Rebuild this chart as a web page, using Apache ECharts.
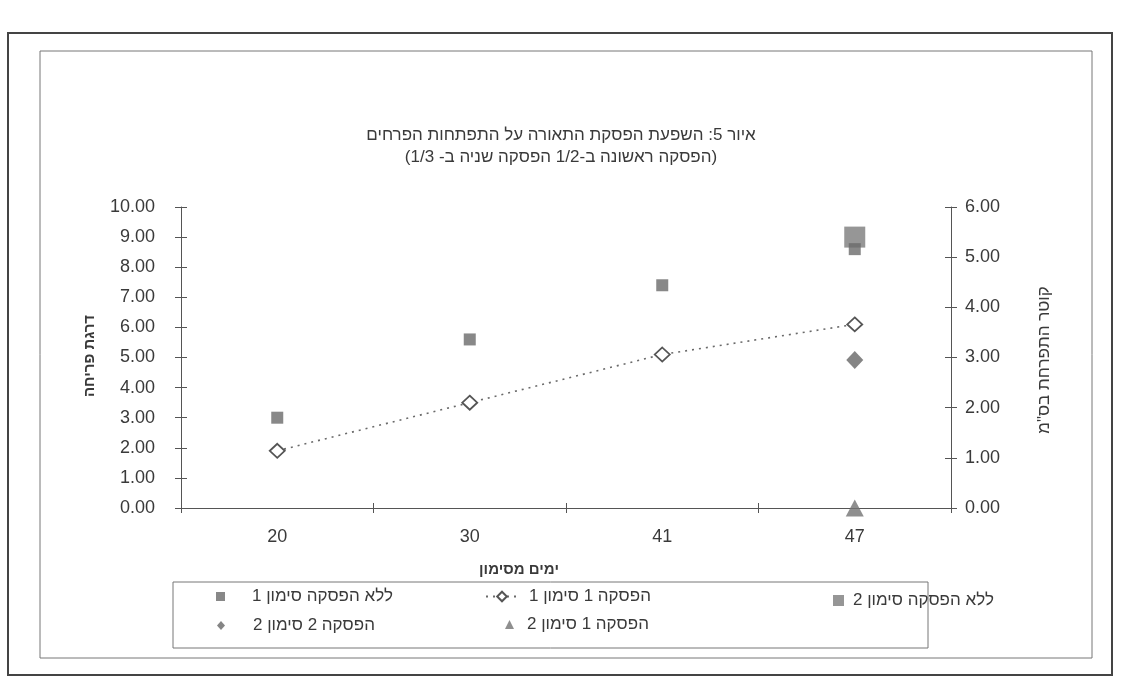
<!DOCTYPE html>
<html>
<head>
<meta charset="utf-8">
<script src="https://cdn.jsdelivr.net/npm/echarts@6/dist/echarts.min.js"></script>
<style>
html,body{margin:0;padding:0;background:#fff;}
#c{width:1122px;height:696px;}
</style>
</head>
<body>
<div id="c" dir="rtl"></div>
<script>
// ---- data ----
const categories = ['20', '30', '41', '47'];
const seriesNames = ['ללא הפסקה סימון 1', 'הפסקה 1 סימון 1', 'ללא הפסקה סימון 2', 'הפסקה 1 סימון 2', 'הפסקה 2 סימון 2'];
const noBreakMark1 = [3.0, 5.6, 7.4, 8.6];        // left axis
const break1Mark1 = [1.9, 3.5, 5.1, 6.1];         // left axis
const noBreakMark2 = [null, null, null, 5.4];     // right axis
const break1Mark2 = [null, null, null, 0];        // right axis
const break2Mark2 = [null, null, null, 2.95];     // right axis
const titleLines = ['איור 5: השפעת הפסקת התאורה על התפתחות הפרחים', '(הפסקה ראשונה ב-1/2 הפסקה שניה ב- 1/3)'];
const xName = 'ימים מסימון';
const leftName = 'דרגת פריחה';
const rightName = 'קוטר התפרחת בס"מ';

const FONT = '"Liberation Sans", Arial, sans-serif';
const AX = '#555';
const TXT = '#3a3a3a';

const chart = echarts.init(document.getElementById('c'), null, {renderer: 'canvas'});

function yAx(pos, max, labels, inside) {
  return {
    type: 'value', position: pos, min: 0, max: max, interval: 1,
    axisLine: {show: !inside, onZero: false, lineStyle: {color: AX, width: 1}},
    axisTick: {show: true, inside: inside, length: 6, lineStyle: {color: AX}},
    axisLabel: {show: labels, formatter: v => v.toFixed(2), fontSize: 18, color: TXT, fontFamily: FONT,
                margin: pos === 'left' ? 26 : 14},
    splitLine: {show: false}
  };
}
function xAx(inside) {
  return {
    type: 'category', data: categories, position: 'bottom', boundaryGap: true,
    axisLine: {show: !inside, onZero: false, lineStyle: {color: AX, width: 1}},
    axisTick: {show: true, inside: inside, length: 5, alignWithLabel: false, lineStyle: {color: AX}},
    axisLabel: {show: !inside, fontSize: 18, color: TXT, fontFamily: FONT, margin: 20},
    splitLine: {show: false}
  };
}
const legendText = {fontSize: 17, color: TXT, fontFamily: FONT};
function lg(name, left, top, w, h, pad) {
  return {data: [name], left: left, top: top, itemWidth: w, itemHeight: h, padding: 0,
          selectedMode: false, textStyle: Object.assign({}, legendText, {padding: [0, 0, 0, pad]})};
}

const option = {
  backgroundColor: '#fff',
  animation: false,
  title: {
    text: titleLines.join('\n'), left: 'center', top: 119,
    textStyle: {fontSize: 17, fontWeight: 'normal', color: TXT, fontFamily: FONT, lineHeight: 22}
  },
  grid: {left: 181, right: 171, top: 207, bottom: 188, containLabel: false, outerBoundsMode: 'none'},
  xAxis: [xAx(false), xAx(true)],
  yAxis: [yAx('left', 10, true, false), yAx('right', 6, true, false), yAx('left', 10, false, true), yAx('right', 6, false, true)],
  legend: [
    lg(seriesNames[0], 216, 588, 9, 9, 22),
    lg(seriesNames[1], 485, 588, 32, 12, 6),
    lg(seriesNames[2], 833, 592, 11, 11, 4),
    lg(seriesNames[3], 505, 616, 9, 9, 8),
    lg(seriesNames[4], 217, 617, 8, 9, 23)
  ],
  series: [
    {name: seriesNames[2], type: 'scatter', yAxisIndex: 1, data: noBreakMark2, symbol: 'rect', symbolSize: 21,
     itemStyle: {color: '#7c7c7c'}, clip: false, z: 2},
    {name: seriesNames[0], type: 'scatter', yAxisIndex: 0, data: noBreakMark1, symbol: 'rect', symbolSize: 12,
     itemStyle: {color: '#6a6a6a'}, clip: false, z: 3},
    {name: seriesNames[1], type: 'line', yAxisIndex: 0, data: break1Mark1, symbol: 'diamond', symbolSize: [15, 14],
     showAllSymbol: true, lineStyle: {type: [2, 5], width: 1.6, color: '#6a6a6a'},
     itemStyle: {color: '#ffffff', borderColor: '#555', borderWidth: 1.8}, clip: false, z: 4},
    {name: seriesNames[4], type: 'scatter', yAxisIndex: 1, data: break2Mark2, symbol: 'diamond', symbolSize: [17, 18],
     itemStyle: {color: '#666'}, clip: false, z: 3},
    {name: seriesNames[3], type: 'scatter', yAxisIndex: 1, data: break1Mark2, symbol: 'triangle', symbolSize: [18, 17],
     itemStyle: {color: '#737373'}, clip: false, z: 3}
  ],
  graphic: [
    {type: 'rect', shape: {x: 8, y: 33, width: 1104, height: 642}, style: {fill: 'none', stroke: '#444', lineWidth: 2}, z: -1},
    {type: 'rect', shape: {x: 40, y: 51, width: 1052, height: 607}, style: {fill: 'none', stroke: '#777', lineWidth: 1}, z: -1},
    {type: 'rect', shape: {x: 173, y: 582, width: 755, height: 66}, style: {fill: 'none', stroke: '#777', lineWidth: 1}, z: -1},
    {type: 'text', x: 519, y: 570, style: {text: xName, font: 'bold 15px ' + FONT, fill: TXT, textAlign: 'center', textVerticalAlign: 'middle'}},
    {type: 'text', x: 90, y: 356, rotation: Math.PI / 2, style: {text: leftName, font: 'bold 15px ' + FONT, fill: TXT, textAlign: 'center', textVerticalAlign: 'middle'}},
    {type: 'text', x: 1044, y: 360, rotation: Math.PI / 2, style: {text: rightName, font: '17px ' + FONT, fill: TXT, textAlign: 'center', textVerticalAlign: 'middle'}}
  ]
};
chart.setOption(option);
</script>
</body>
</html>
